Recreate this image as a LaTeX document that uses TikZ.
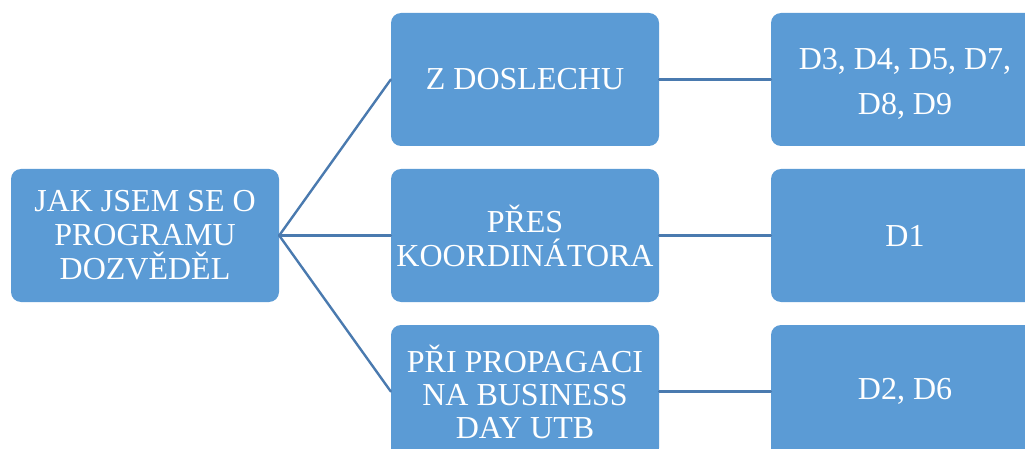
\documentclass[tikz,border=0pt]{standalone}
\usepackage{fontspec}
\setmainfont{Liberation Serif}
\definecolor{boxblue}{HTML}{5B9BD5}
\definecolor{linkblue}{HTML}{4A7AAF}
\tikzset{
  boxnode/.style={rectangle,rounded corners=10pt,fill=boxblue,draw=none,text=white,
    minimum width=268pt,minimum height=133pt,inner sep=2pt,align=center,
    font=\fontsize{32}{34}\selectfont},
  link/.style={draw=linkblue,line width=2.4pt}
}

\begin{document}
\begin{tikzpicture}[line cap=round,line join=round,x=1pt,y=-1pt]
\useasboundingbox (0,0) rectangle (1025,449);
% levy sloupec
\node[boxnode] (jak) at (145,235.5) {JAK JSEM SE O\\PROGRAMU\\DOZVĚDĚL};
% prostredni sloupec
\node[boxnode] (doslech) at (525,79.5) {Z DOSLECHU};
\node[boxnode] (koord) at (525,235.5) {PŘES\\KOORDINÁTORA};
\node[boxnode,font=\fontsize{32}{33}\selectfont] (propag) at (525,391.5) {PŘI PROPAGACI\\NA BUSINESS\\DAY UTB};
% pravy sloupec
\node[boxnode,font=\fontsize{32}{45}\selectfont] (d1) at (905,79.5) {\rule{0pt}{29pt}D3, D4, D5, D7,\\D8, D9};
\node[boxnode] (d2) at (905,235.5) {D1};
\node[boxnode] (d3) at (905,391.5) {D2, D6};
% spojnice
\draw[link] (jak.east) -- (doslech.west);
\draw[link] (jak.east) -- (koord.west);
\draw[link] (jak.east) -- (propag.west);
\draw[link] (doslech.east) -- (d1.west);
\draw[link] (koord.east) -- (d2.west);
\draw[link] (propag.east) -- (d3.west);
\end{tikzpicture}
\end{document}
